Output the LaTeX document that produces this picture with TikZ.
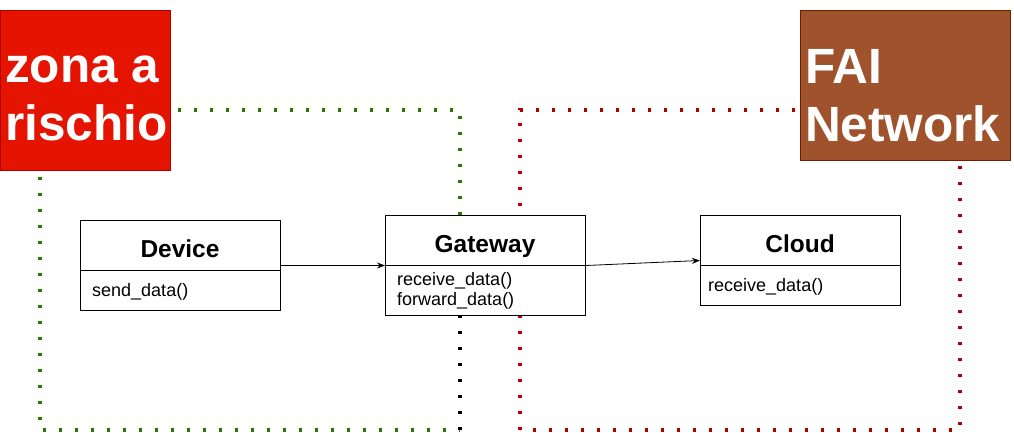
\documentclass[tikz,border=0pt]{standalone}
\usepackage{fontspec}
\setmainfont{Liberation Sans}
\usetikzlibrary{arrows.meta}
\definecolor{grn}{HTML}{2D7600}
\definecolor{rdl}{HTML}{B20000}
\definecolor{rfill}{HTML}{E51400}
\definecolor{bfill}{HTML}{A0522D}
\definecolor{bline}{HTML}{6D1F00}
\tikzset{
  dotline/.style={line width=3.2pt, dash pattern=on 3.2pt off 12.8pt},
  classbox/.style={draw=black, fill=white, line width=1pt, minimum width=200pt, inner sep=0pt, anchor=north west},
  ctitle/.style={font=\fontsize{24.5}{29}\selectfont\bfseries, inner sep=0pt, anchor=base},
  meth/.style={font=\fontsize{18}{20}\selectfont, inner sep=0pt, anchor=base west},
  bigbox/.style={line width=1pt, minimum width=170pt, minimum height=160pt, inner sep=0pt, anchor=north west},
  bigtext/.style={font=\fontsize{49.5}{58}\selectfont\bfseries, text=white, inner sep=0pt, anchor=base west, align=left},
  conn/.style={line width=0.8pt, -{Stealth[length=8pt,width=6pt]}}
}
\begin{document}
\begin{tikzpicture}[x=1pt,y=-1pt]
\useasboundingbox (0,0) rectangle (1014,433);
% dotted zones
\draw[dotline, grn] (460,215) -- (460,110) -- (40,110) -- (40,430) -- (460,430);
\draw[dotline, black] (460,430) -- (460,315);
\draw[dotline, rdl] (520,430) -- (520,110) -- (960,110) -- (960,430) -- cycle;
% class boxes
\node[classbox, minimum height=90pt] (dev) at (80,220) {};
\node[classbox, minimum height=100pt] (gw) at (385,215) {};
\node[classbox, minimum height=90pt] (cloud) at (700,215) {};
\draw[line width=1pt] (dev.west |- 0,270) -- (dev.east |- 0,270);
\draw[line width=1pt] (gw.west |- 0,265) -- (gw.east |- 0,265);
\draw[line width=1pt] (cloud.west |- 0,265) -- (cloud.east |- 0,265);
\node[ctitle] (devt) at (180,257) {Device};
\node[ctitle] (gwt) at (485,252) {Gateway};
\node[ctitle] (cloudt) at (800,252) {Cloud};
\node[meth] (devm) at (92,296) {send\_data()};
\node[meth] (gwm1) at (397,285) {receive\_data()};
\node[meth] (gwm2) at (397,305) {forward\_data()};
\node[meth] (cloudm) at (708,291) {receive\_data()};
% connectors
\draw[conn] (dev.east) -- (gw.west);
\draw[conn] (gw.east) -- (cloud.west);
% zone labels
\node[bigbox, draw=rdl, fill=rfill] (zona) at (0,10) {};
\node[bigtext] (zonat) at (5,140) {zona a\\rischio};
\node[bigbox, draw=bline, fill=bfill, minimum width=210pt, minimum height=150pt] (fai) at (800,10) {};
\node[bigtext] (fait) at (805,141) {FAI\\Network};
\end{tikzpicture}
\end{document}
